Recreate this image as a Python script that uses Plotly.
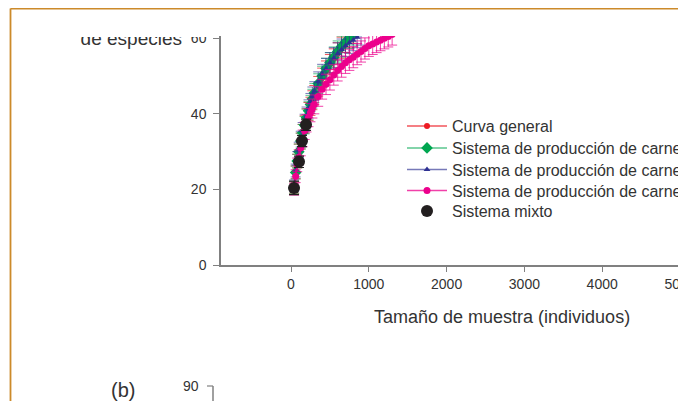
import plotly.graph_objects as go

# ---- data ----
x_red = [40, 60, 80, 100, 125, 150, 175, 200, 225, 250, 275, 300, 350, 400, 450, 500, 550, 600, 650, 700, 750, 800]
y_red = [20.5, 24.5, 27.5, 30, 32.8, 35, 37.2, 39, 40.6, 42, 43.6, 45, 47.3, 49.5, 51.3, 53, 54.5, 56, 57.5, 59, 60.3, 61.5]
e_red = [1.5, 1.7, 1.8, 2.0, 2.1, 2.2, 2.3, 2.3, 2.4, 2.4, 2.5, 2.5, 2.6, 2.6, 2.7, 2.7, 2.7, 2.8, 2.8, 2.8, 2.8, 2.8]

x_green = [40, 60, 80, 100, 125, 150, 175, 200, 225, 250, 275, 300, 350, 400, 450, 500, 550, 600, 650, 700, 750, 800]
y_green = [20.5, 24.5, 27.5, 30, 32.8, 35, 37, 39, 40.8, 42.5, 44, 45.5, 48, 50, 52, 53.5, 55, 56.5, 57.8, 59, 60.1, 61]
e_green = [1.5, 1.7, 1.8, 2.0, 2.1, 2.2, 2.3, 2.3, 2.4, 2.4, 2.5, 2.5, 2.6, 2.6, 2.7, 2.7, 2.7, 2.8, 2.8, 2.8, 2.8, 2.8]

x_blue = [40, 60, 80, 100, 125, 150, 175, 200, 225, 250, 275, 300, 350, 400, 450, 500, 550, 600, 650, 700, 750, 800, 850, 900]
y_blue = [21, 25, 28.2, 30.5, 33.3, 35.5, 37.6, 39.5, 41.3, 43, 44.6, 46, 48.5, 50.5, 52, 53.5, 54.8, 56, 57, 58, 58.8, 59.5, 60.3, 61]
e_blue = [1.5, 1.7, 1.8, 2.0, 2.1, 2.2, 2.3, 2.3, 2.4, 2.4, 2.5, 2.5, 2.6, 2.6, 2.7, 2.7, 2.7, 2.8, 2.8, 2.8, 2.8, 2.8, 2.8, 2.8]

x_pink = [40, 60, 80, 100, 125, 150, 175, 200, 225, 250, 275, 300, 350, 400, 450, 500, 550, 600, 650, 700, 750, 800, 850, 900, 950, 1000, 1050, 1100, 1150, 1200, 1250, 1300]
y_pink = [20, 23.5, 26.5, 28.5, 31, 33.5, 35.5, 37.5, 39, 40.3, 41.4, 42.5, 44.6, 46.5, 47.8, 49, 50.3, 51.5, 52.5, 53.5, 54.3, 55, 55.8, 56.5, 57.3, 58, 58.5, 59, 59.5, 60, 60.5, 61]
e_pink = [1.5, 1.7, 1.8, 2.0, 2.1, 2.2, 2.3, 2.3, 2.4, 2.4, 2.5, 2.5, 2.6, 2.6, 2.7, 2.7, 2.7, 2.8, 2.8, 2.8, 2.8, 2.8, 2.8, 2.8, 2.8, 2.8, 2.8, 2.8, 2.8, 2.8, 2.8, 2.8]

x_mixto = [39, 103, 141, 193]
y_mixto = [20.4, 27.3, 32.8, 37.1]
e_mixto = [1.8, 1.5, 1.5, 1.5]

names = ["Curva general",
         "Sistema de producción de carne",
         "Sistema de producción de carne",
         "Sistema de producción de carne",
         "Sistema mixto"]

x_ticks = [0, 1000, 2000, 3000, 4000, 5000]
y_ticks = [0, 20, 40, 60]

W, H = 686, 401
OFF = 8  # page body margin in front of the figure

def px(x):
    return (x - OFF) / W

def py(y):
    return 1 - (y - OFF) / H

FONT = "Liberation Sans, Arial, sans-serif"
TXT = "#333333"
AX = "#808080"
ORANGE = "#CC8A2A"

fig = go.Figure()

legend_ids = ["legend", "legend2", "legend3", "legend4", "legend5"]
legend_rows = [126, 148, 169.5, 190.5, 211]   # centre of each legend row (picture px)

series = [
    (x_red, y_red, e_red, "rgba(237,28,36,0.75)", "#ED1C24", "circle", 6),
    (x_green, y_green, e_green, "rgba(0,166,81,0.65)", "#00A651", "diamond", 9),
    (x_blue, y_blue, e_blue, "rgba(46,49,146,0.65)", "#2E3192", "triangle-up", 6),
    (x_pink, y_pink, e_pink, "rgba(236,0,140,0.75)", "#EC008C", "circle", 7),
]
for (xs, ys, es, lc, mc, sym, sz), nm, lg in zip(series, names[:4], legend_ids[:4]):
    fig.add_trace(go.Scatter(
        x=xs, y=ys, name=nm, mode="lines+markers", legend=lg,
        line=dict(color=lc, width=1.5),
        marker=dict(color=mc, symbol=sym, size=sz, line=dict(width=0)),
        error_y=dict(type="data", array=es, visible=True, color=lc, thickness=1, width=5),
    ))

fig.add_trace(go.Scatter(
    x=x_mixto, y=y_mixto, name=names[4], mode="markers", legend=legend_ids[4],
    marker=dict(color="#231F20", symbol="circle", size=12, line=dict(width=0)),
    error_y=dict(type="data", array=e_mixto, visible=True, color="#231F20", thickness=1.2, width=5),
))

# invisible trace holding the secondary y axis used for the clipped label
fig.add_trace(go.Scatter(x=[None], y=[None], yaxis="y2", showlegend=False, hoverinfo="skip"))

x_px_per_unit = 0.0778
x_lo = -(291 - 221) / x_px_per_unit
x_hi = (694 - 291) / x_px_per_unit

legend_style = dict(xanchor="left", yanchor="middle", bgcolor="rgba(0,0,0,0)", borderwidth=0,
                    font=dict(size=16, color=TXT, family=FONT), itemwidth=40)

layout_legends = {}
for lg, row in zip(legend_ids, legend_rows):
    layout_legends[lg] = dict(x=px(402), y=py(row), **legend_style)

fig.update_layout(
    width=W, height=H,
    margin=dict(l=0, r=0, t=0, b=0, autoexpand=False),
    paper_bgcolor="white", plot_bgcolor="white",
    font=dict(family=FONT, color=TXT),
    showlegend=True,
    xaxis=dict(
        domain=[px(221), 1], range=[x_lo, x_hi],
        tickvals=x_ticks, ticks="outside", ticklen=5, tickcolor=AX, tickwidth=1.2,
        showline=True, linecolor=AX, linewidth=1.5, showgrid=False, zeroline=False,
        tickfont=dict(size=14, color=TXT), ticklabelstandoff=0, ticklabeloverflow="allow",
    ),
    yaxis=dict(
        domain=[py(265), py(36)], range=[0, 60.6],
        tickvals=y_ticks, ticks="outside", ticklen=6, tickcolor=AX, tickwidth=1.2,
        showline=True, linecolor=AX, linewidth=1.5, showgrid=False, zeroline=False,
        tickfont=dict(size=14, color=TXT), ticklabelstandoff=4,
    ),
    yaxis2=dict(
        overlaying="y", anchor="free", position=px(182), side="left",
        range=[0, 60.6], tickvals=[60], ticktext=["de especies"],
        ticks="", showline=False, showgrid=False, zeroline=False,
        tickfont=dict(size=19, color=TXT),
    ),
    annotations=[
        dict(text="Tamaño de muestra (individuos)", x=px(502), y=py(317),
             xref="paper", yref="paper", xanchor="center", yanchor="middle",
             showarrow=False, font=dict(size=18, color=TXT)),
        dict(text="(b)", x=px(123), y=py(390), xref="paper", yref="paper",
             xanchor="center", yanchor="middle",
             showarrow=False, font=dict(size=20, color=TXT)),
        dict(text="90", x=px(191), y=py(386), xref="paper", yref="paper",
             xanchor="center", yanchor="middle",
             showarrow=False, font=dict(size=14, color=TXT)),
    ],
    shapes=[
        # white band that clips the tops of the upper-left labels
        dict(type="rect", xref="paper", yref="paper", x0=-0.02, x1=px(216), y0=py(37), y1=1.02,
             fillcolor="white", line=dict(width=0), layer="above"),
        # orange frame
        dict(type="line", xref="paper", yref="paper", x0=px(10.5), x1=1.02, y0=py(8.5), y1=py(8.5),
             line=dict(color=ORANGE, width=1.8), layer="above"),
        dict(type="line", xref="paper", yref="paper", x0=px(10.5), x1=px(10.5), y0=py(8.5), y1=-0.02,
             line=dict(color=ORANGE, width=1.8), layer="above"),
        # start of the next panel's axis
        dict(type="line", xref="paper", yref="paper", x0=px(207), x1=px(213), y0=py(386), y1=py(386),
             line=dict(color=AX, width=1.2), layer="above"),
        dict(type="line", xref="paper", yref="paper", x0=px(213), x1=px(213), y0=py(386), y1=-0.02,
             line=dict(color=AX, width=1.5), layer="above"),
    ],
    **layout_legends,
)

fig.write_html("out.html")
